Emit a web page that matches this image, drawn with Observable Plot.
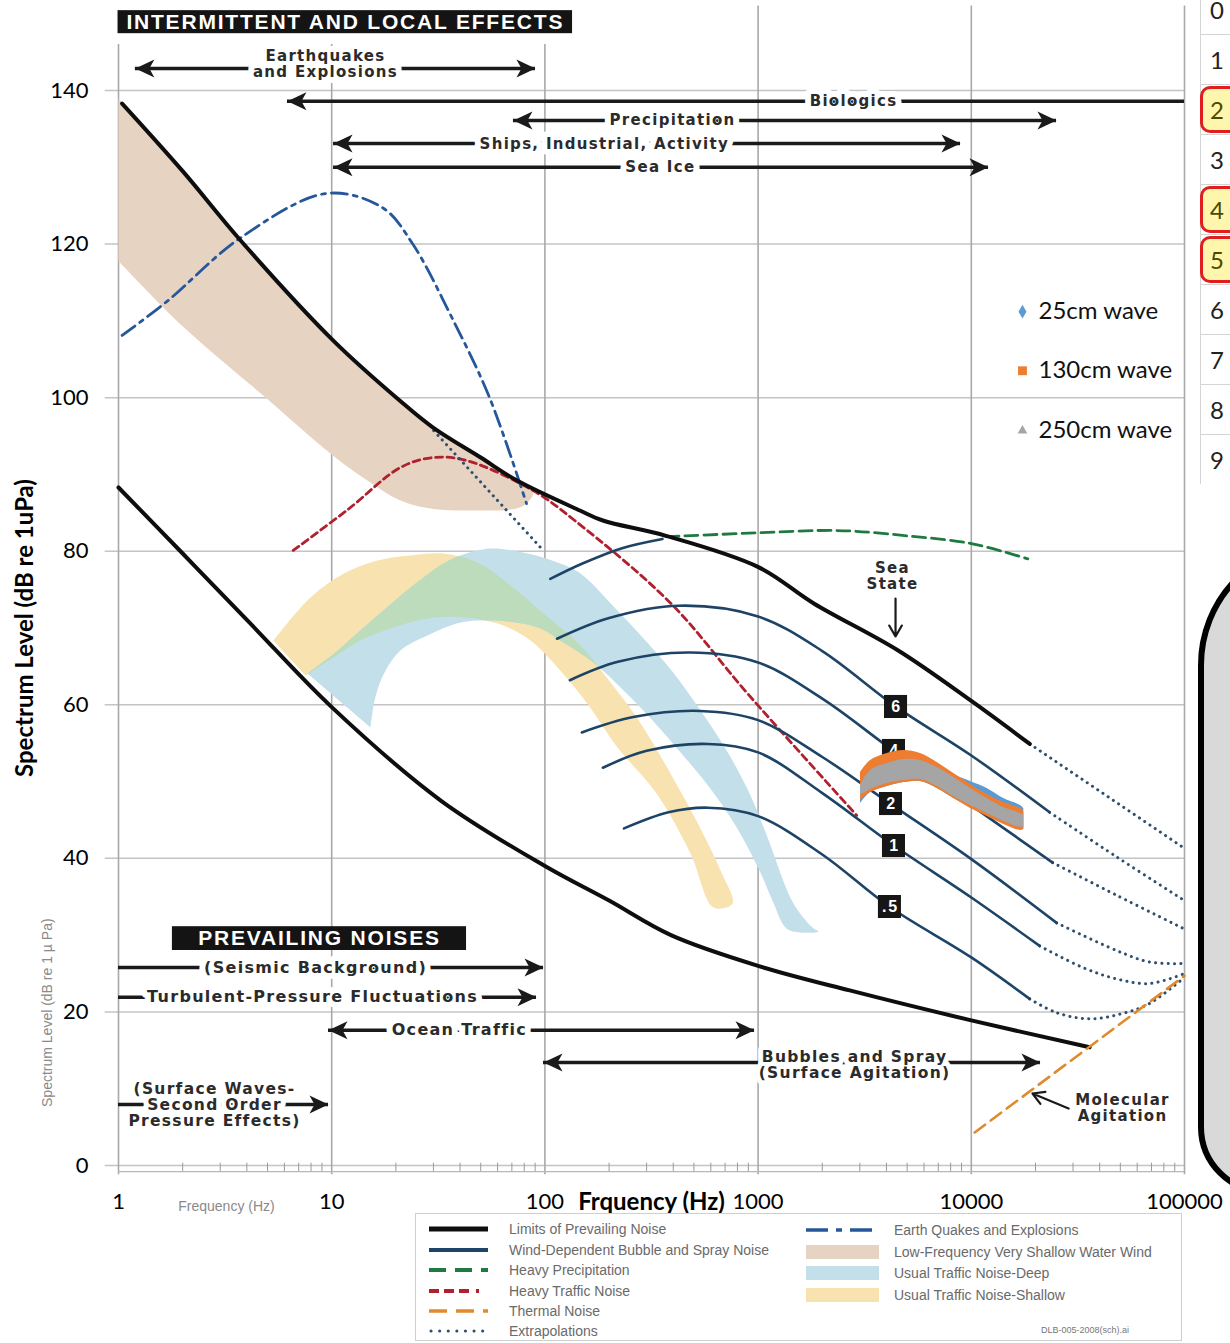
<!DOCTYPE html>
<html>
<head>
<meta charset="utf-8">
<script src="https://cdn.jsdelivr.net/npm/d3@7"></script>
<script src="https://cdn.jsdelivr.net/npm/@observablehq/plot@0.6"></script>
<style>
html,body{margin:0;padding:0;background:#fff}
body{width:1230px;height:1343px;position:relative;overflow:hidden}
#chart{position:absolute;left:0;top:0}
#chart svg{overflow:visible}
g[font-family="DejaVu Sans"] text{letter-spacing:1.3px}
g[font-family="Liberation Sans"] text{letter-spacing:1.8px}
.rowhdr{position:absolute;left:1200px;width:60px;height:50px;box-sizing:border-box;border-top:1px solid #d4d4d4;border-left:1px solid #d4d4d4;font:24px Lato,sans-serif;color:#222;padding-left:9px;line-height:50px;background:#fff}
.rowhdr .hl{position:absolute;left:-1px;top:1px;width:44px;height:47px;box-sizing:border-box;border:3px solid #e01e1e;border-radius:10px;background:#fff6ae;color:#4a4a00;padding-left:7px;line-height:41px}
#roundbox{position:absolute;left:1198px;top:540px;width:200px;height:655px;box-sizing:border-box;border:6px solid #000;border-radius:125px 0 0 68px;background:#d9d9d9}
#wenzLegend{position:absolute;left:415px;top:1213px;width:767px;height:128px;box-sizing:border-box;border:1px solid #cfcfcf;background:#fff;font-family:"Liberation Sans",Arial,sans-serif;font-size:14px;color:#6a6a6a}
#wenzLegend .item{position:absolute;height:20px;line-height:20px;white-space:nowrap}
#wenzLegend svg{position:absolute}
</style>
</head>
<body>
<div id="chart"></div>
<div id="rows"></div>
<div id="roundbox"></div>
<div id="wenzLegend"></div>
<script>
// ---------------- axes ----------------
const freqTicks = [1, 10, 100, 1000, 10000, 100000];
const freqTickTopDb = [146, 146, 146, 151, 151, 151];
const levelTicks = [0, 20, 40, 60, 80, 100, 120, 140];
const minorMultipliers = [2, 3, 4, 5, 6, 7, 8, 9];

// ---------------- limits of prevailing noise ----------------
const upperLimitHz = [1.04, 2, 3.73, 10.2, 20.9, 29.9, 50, 74, 146, 187, 370, 1009, 1825, 4520, 10000, 18800];
const upperLimitDb = [138.3, 129.5, 120.5, 107.4, 99.6, 96.1, 92.2, 89.2, 85.3, 84.0, 82.0, 77.9, 73.2, 67.1, 60.5, 54.9];
const lowerLimitHz = [1, 2, 4.15, 10, 32.6, 100, 200, 390, 1000, 2690, 10000, 35900];
const lowerLimitDb = [88.3, 79.7, 70.6, 59.7, 47.5, 39, 34.5, 30, 26, 22.8, 18.9, 15.4];

// ---------------- wind dependent bubble & spray noise (sea states) ----------------
const windTopHz = [106, 150, 230, 356];
const windTopDb = [76.4, 78.4, 80.4, 81.6];
const wind6Hz = [114, 200, 425, 1000, 2000, 4412, 10000, 23300];
const wind6Db = [68.6, 71.3, 72.9, 71.5, 67.0, 59.8, 53.4, 46.0];
const wind4Hz = [131, 220, 479, 1000, 2000, 4315, 10000, 24070];
const wind4Db = [63.2, 65.6, 66.8, 65.5, 60.8, 54.0, 46.9, 39.45];
const wind2Hz = [149, 260, 534, 1000, 2000, 4178, 10000, 25130];
const wind2Db = [56.4, 58.4, 59.2, 58.0, 53.2, 47.1, 39.9, 31.6];
const wind1Hz = [187, 300, 582, 1000, 2000, 4315, 10000, 20920];
const wind1Db = [51.8, 54.0, 54.9, 53.8, 48.5, 41.7, 34.9, 28.6];
const windHalfHz = [235, 380, 582, 1000, 2000, 4131, 10000, 18790];
const windHalfDb = [43.9, 46.0, 46.6, 45.5, 40.5, 33.7, 27.1, 21.7];

// ---------------- extrapolations (dotted) ----------------
const extUpperHz = [18800, 100000];
const extUpperDb = [54.9, 41.3];
const extTrafficHz = [30.1, 95.3];
const extTrafficDb = [95.7, 80.5];
const ext6Hz = [23300, 48000, 100000];
const ext6Db = [46.0, 40.2, 34.5];
const ext4Hz = [24070, 48000, 100000];
const ext4Db = [39.45, 35.2, 30.8];
const ext2Hz = [25130, 48000, 68550, 100000];
const ext2Db = [31.6, 28.0, 26.5, 26.3];
const ext1Hz = [20920, 33270, 47990, 68550, 100000];
const ext1Db = [28.6, 25.8, 24.3, 23.7, 25.0];
const extHalfHz = [18790, 25130, 35890, 51220, 68550, 100000];
const extHalfDb = [21.7, 19.9, 19.1, 19.8, 21.1, 24.5];

// ---------------- other sources ----------------
const precipHz = [370, 1009, 1950, 2860, 5000, 10000, 18400];
const precipDb = [81.9, 82.4, 82.7, 82.6, 82.0, 81.0, 79.0];
const heavyTrafficHz = [6.6, 12, 21, 29.9, 43, 88, 138, 390, 890, 2900];
const heavyTrafficDb = [80.1, 85.5, 90.9, 92.2, 91.8, 87.9, 84.0, 73.2, 61.5, 45.6];
const quakeHz = [1.04, 1.7, 3.73, 9.5, 17.4, 24, 35.9, 55, 82];
const quakeDb = [108.1, 112.6, 120.8, 126.6, 124.7, 120, 110.9, 100, 86.2];
const thermalHz = [10370, 100000];
const thermalDb = [4.3, 24.7];

// ---------------- shaded regions (outlines) ----------------
const shallowWindHz = [1, 2, 3.73, 10.2, 20.9, 29.9, 50, 74, 88, 80, 68, 51, 30, 21, 14.7, 9.9, 5, 2, 1];
const shallowWindDb = [139, 129.5, 120.5, 107.4, 99.6, 96.1, 92.2, 89.2, 87.6, 86.0, 85.4, 85.3, 85.5, 86.6, 89.2, 92.7, 99.8, 109.3, 117.8];
const trafficShallowHz = [5.33, 7.95, 11.4, 16.4, 23.4, 33.4, 48.3, 69.0, 98.5, 147, 203, 266, 330, 410, 525, 673, 759, 618, 482, 334, 219, 158, 118, 85.6, 61.9, 42.4, 28.1, 19.5, 13.6, 10.2, 7.54];
const trafficShallowDb = [68.37, 73.97, 77.10, 78.79, 79.44, 79.70, 78.53, 75.53, 71.89, 67.72, 62.90, 58.60, 54.44, 49.88, 44.41, 38.16, 34.12, 33.60, 40.63, 48.45, 54.44, 60.17, 64.46, 68.37, 70.46, 71.37, 71.24, 70.07, 68.37, 66.16, 63.81];
const trafficDeepHz = [7.70, 10.4, 13.6, 17.9, 23.4, 33.4, 40.2, 55.6, 82.9, 118, 147, 212, 296, 393, 537, 726, 921, 1107, 1466, 1799, 1920, 1581, 1359, 1168, 1015, 783, 592, 433, 320, 234, 171, 118, 95.4, 72.8, 55.6, 40.2, 28.1, 21.0, 17.9, 16.1, 15.2];
const trafficDeepDb = [64.07, 66.81, 69.67, 72.54, 75.27, 78.40, 79.44, 80.35, 79.70, 78.40, 77.10, 72.67, 68.37, 64.46, 59.26, 53.66, 48.19, 42.72, 34.12, 30.99, 30.47, 30.34, 30.86, 34.51, 38.42, 44.28, 49.23, 53.79, 57.95, 61.86, 65.38, 68.37, 69.93, 70.72, 70.98, 70.72, 69.02, 67.07, 64.46, 61.21, 57.04];

// ---------------- annotations ----------------
const arrowLabels = ["Earthquakes\nand Explosions", "Biologics", "Precipitation", "Ships, Industrial, Activity", "Sea Ice",
  "(Seismic Background)", "Turbulent-Pressure Fluctuations", "Ocean Traffic", "Bubbles and Spray\n(Surface Agitation)", "(Surface Waves-\nSecond Order\nPressure Effects)"];
const arrowDb = [142.85, 138.6, 136.1, 133.1, 130.0, 25.8, 21.9, 17.6, 13.4, 7.94];
const arrowFromHz = [1.2, 6.2, 71.2, 10.2, 10.2, 1, 1, 9.66, 98.5, 1];
const arrowToHz = [90.3, 100000, 25100, 8900, 12040, 98.5, 91.3, 962, 21100, 9.66];
const arrowHeadFrom = [true, true, true, true, true, false, false, true, true, false];
const arrowHeadTo = [true, false, true, true, true, true, true, true, true, true];
const arrowLabelHz = [9.35, 2803, 397, 190, 348, 8.4, 8.13, 39.7, 2834, 2.82];
const arrowLabelDb = [143.5, 138.6, 136.2, 133.1, 130.0, 25.8, 22.0, 17.6, 13.15, 7.94];

const noteLabels = ["Sea\nState", "Molecular\nAgitation"];
const noteHz = [4270, 51200];
const noteDb = [76.84, 7.55];
const pointerFromHz = [4412, 28600];
const pointerFromDb = [73.84, 7.42];
const pointerToHz = [4412, 19360];
const pointerToDb = [68.89, 9.38];

const bannerLabels = ["INTERMITTENT AND LOCAL EFFECTS", "PREVAILING NOISES"];
const bannerFromHz = [0.995, 1.79];
const bannerToHz = [134.8, 42.9];
const bannerLowDb = [147.4, 28.0];
const bannerHighDb = [150.4, 31.1];

const seaStateLabels = ["6", "4", "2", "1", ".5"];
const seaStateHz = [4412, 4315, 4178, 4315, 4131];
const seaStateDb = [59.78, 54.05, 47.14, 41.67, 33.73];

// ---------------- measured spectra (Excel series) ----------------
const waveHz = [3022, 3367, 4033, 4826, 5776, 6918, 8277, 9913, 11870, 14205, 17014, 17632];
const wave25High = [50.79, 52.48, 53.39, 53.79, 53.53, 52.22, 50.92, 50.01, 49.10, 47.79, 46.88, 46.49];
const wave25Low = [47.14, 48.58, 49.36, 49.88, 50.01, 49.10, 47.79, 46.62, 45.58, 44.54, 43.76, 43.89];
const wave130High = [51.18, 52.74, 53.66, 54.05, 53.66, 52.48, 51.05, 49.62, 48.32, 47.27, 46.49, 46.10];
const wave130Low = [47.53, 48.58, 49.36, 49.88, 50.01, 49.10, 47.79, 46.49, 45.45, 44.41, 43.63, 43.76];
const wave250High = [49.49, 51.44, 52.35, 52.87, 52.74, 51.83, 50.53, 49.10, 47.79, 46.62, 45.84, 45.58];
const wave250Low = [48.19, 48.97, 49.75, 50.14, 50.27, 49.36, 48.06, 46.88, 45.84, 44.80, 44.02, 44.15];
const waveNames = ["25cm wave", "130cm wave", "250cm wave"];
const waveLegendHz = [17380, 17380, 17380];
const waveLegendTextHz = [20660, 20660, 20660];
const waveLegendDb = [111.2, 103.5, 95.7];

// ---------------- spreadsheet row headers ----------------
const rowNumbers = [0, 1, 2, 3, 4, 5, 6, 7, 8, 9];
const highlightedRows = [2, 4, 5];

// ---------------- legend (Wenz) ----------------
const legendLeft = ["Limits of Prevailing Noise", "Wind-Dependent Bubble and Spray Noise", "Heavy Precipitation", "Heavy Traffic Noise", "Thermal Noise", "Extrapolations"];
const legendRight = ["Earth Quakes and Explosions", "Low-Frequency Very Shallow Water Wind", "Usual Traffic Noise-Deep", "Usual Traffic Noise-Shallow"];

// ================= build =================
const C = {
  limit: "#0e0e0e", wind: "#1d4466", precip: "#1f7a42", traffic: "#b0202e", quake: "#26579a",
  dotted: "#2f4f6f", thermal: "#e08a2c", beige: "#e7d3c2", yellow: "#f8e2b0", blue: "#c3dfe9", green: "#bcdcbc",
  s25: "#5b9bd5", s130: "#ed7d31", s250: "#a5a5a5", ink: "#1a1a1a", text: "#2b2b2b"
};
const rows = (xs, ys, extra = {}) => xs.map((x, i) => ({hz: x, db: ys[i], ...extra}));

const gridRows = freqTicks.map((f, i) => ({hz: f, top: freqTickTopDb[i]}));
const minorTicks = freqTicks.slice(0, 5).flatMap(d => minorMultipliers.map(m => d * m));
const limitRows = [...rows(upperLimitHz, upperLimitDb, {id: "upper"}), ...rows(lowerLimitHz, lowerLimitDb, {id: "lower"})];
const windRows = [
  ...rows(windTopHz, windTopDb, {id: "top"}), ...rows(wind6Hz, wind6Db, {id: "6"}), ...rows(wind4Hz, wind4Db, {id: "4"}),
  ...rows(wind2Hz, wind2Db, {id: "2"}), ...rows(wind1Hz, wind1Db, {id: "1"}), ...rows(windHalfHz, windHalfDb, {id: ".5"})];
const extRows = [
  ...rows(extUpperHz, extUpperDb, {id: "u"}), ...rows(extTrafficHz, extTrafficDb, {id: "t"}), ...rows(ext6Hz, ext6Db, {id: "6"}),
  ...rows(ext4Hz, ext4Db, {id: "4"}), ...rows(ext2Hz, ext2Db, {id: "2"}), ...rows(ext1Hz, ext1Db, {id: "1"}), ...rows(extHalfHz, extHalfDb, {id: ".5"})];
const arrows = arrowLabels.map((label, i) => ({label, db: arrowDb[i], from: arrowFromHz[i], to: arrowToHz[i],
  headFrom: arrowHeadFrom[i], headTo: arrowHeadTo[i], lx: arrowLabelHz[i], ly: arrowLabelDb[i], multi: label.includes("\n")}));
const notes = noteLabels.map((label, i) => ({label, hz: noteHz[i], db: noteDb[i]}));
const pointers = pointerFromHz.map((x, i) => ({x1: x, y1: pointerFromDb[i], x2: pointerToHz[i], y2: pointerToDb[i]}));
const banners = bannerLabels.map((label, i) => ({label, x1: bannerFromHz[i], x2: bannerToHz[i], y1: bannerLowDb[i], y2: bannerHighDb[i],
  cx: Math.sqrt(bannerFromHz[i] * bannerToHz[i]), cy: (bannerLowDb[i] + bannerHighDb[i]) / 2}));
const seaStates = seaStateLabels.map((label, i) => ({label, hz: seaStateHz[i], db: seaStateDb[i]}));
const waveRows = (lo, hi) => waveHz.map((x, i) => ({hz: x, low: lo[i], high: hi[i]}));
const waveLegend = waveNames.map((name, i) => ({name, hz: waveLegendHz[i], tx: waveLegendTextHz[i], db: waveLegendDb[i]}));

const headRight = {draw(ctx) { ctx.moveTo(0, 0); ctx.lineTo(-19, -9); ctx.lineTo(-14, 0); ctx.lineTo(-19, 9); ctx.closePath(); }};
const headLeft = {draw(ctx) { ctx.moveTo(0, 0); ctx.lineTo(19, -9); ctx.lineTo(14, 0); ctx.lineTo(19, 9); ctx.closePath(); }};

// text groups: top labels 15px, bottom single-line 16px, bottom multi-line 15.5px
const topLabels = arrows.filter(d => d.db > 100);
const bottomSingle = arrows.filter(d => d.db < 100 && !d.multi);
const bottomMulti = arrows.filter(d => d.db < 100 && d.multi);
const wenz = {fontFamily: "DejaVu Sans", fontWeight: "bold"};
function labelLayers(data, opts, halo) {
  return [
    Plot.text(data, {...opts, ...wenz, fill: "white", stroke: "white", strokeWidth: halo}),
    Plot.text(data, {...opts, ...wenz, fill: C.text})
  ];
}

const svg = Plot.plot({
  width: 1230, height: 1213,
  marginLeft: 118, marginRight: 46, marginTop: 90, marginBottom: 48,
  style: {background: "transparent", fontFamily: "Lato, sans-serif", fontSize: "22px", color: "#000", overflow: "visible"},
  x: {type: "log", domain: [1, 100000], ticks: freqTicks, tickFormat: d => String(d), tickSize: 0, tickPadding: 28, label: null},
  y: {domain: [0, 140], ticks: levelTicks, tickSize: 0, tickPadding: 30, label: null},
  marks: [
    // grid
    Plot.ruleY(levelTicks, {x1: 0.866, x2: 100000, stroke: "#c4c4c4", strokeWidth: 1.5}),
    Plot.ruleX(gridRows, {x: "hz", y1: -1.2, y2: "top", stroke: "#a9a9a9", strokeWidth: 1.6}),
    Plot.ruleY([-0.8], {x1: 1, x2: 100000, stroke: "#b8b8b8", strokeWidth: 1.2}),
    Plot.ruleX(minorTicks, {y1: -0.8, y2: 0.3, stroke: "#9a9a9a", strokeWidth: 1}),
    // shaded regions
    Plot.line(rows(shallowWindHz, shallowWindDb), {x: "hz", y: "db", fill: C.beige, stroke: "none", curve: "catmull-rom"}),
    Plot.line(rows(trafficShallowHz, trafficShallowDb), {x: "hz", y: "db", fill: C.yellow, stroke: "none", curve: "catmull-rom"}),
    Plot.line(rows(trafficDeepHz, trafficDeepDb), {x: "hz", y: "db", fill: C.blue, stroke: "none", curve: "catmull-rom"}),
    // curves
    Plot.line(rows(quakeHz, quakeDb), {x: "hz", y: "db", stroke: C.quake, strokeWidth: 2.8, strokeDasharray: "16,6,4,6", curve: "catmull-rom"}),
    Plot.line(rows(heavyTrafficHz, heavyTrafficDb), {x: "hz", y: "db", stroke: C.traffic, strokeWidth: 2.8, strokeDasharray: "7,4.5", curve: "catmull-rom"}),
    Plot.line(rows(precipHz, precipDb), {x: "hz", y: "db", stroke: C.precip, strokeWidth: 2.8, strokeDasharray: "13,6", curve: "catmull-rom"}),
    Plot.line(extRows, {x: "hz", y: "db", z: "id", stroke: C.dotted, strokeWidth: 3, strokeDasharray: "0.1,6.2", strokeLinecap: "round", curve: "catmull-rom"}),
    Plot.line(windRows, {x: "hz", y: "db", z: "id", stroke: C.wind, strokeWidth: 2.6, curve: "catmull-rom"}),
    Plot.line(limitRows, {x: "hz", y: "db", z: "id", stroke: C.limit, strokeWidth: 4, curve: "catmull-rom"}),
    Plot.line(rows(thermalHz, thermalDb), {x: "hz", y: "db", stroke: C.thermal, strokeWidth: 2.6, strokeDasharray: "13,7"}),
    // annotation arrows
    Plot.ruleY(arrows, {y: "db", x1: "from", x2: "to", stroke: C.ink, strokeWidth: 3.5}),
    Plot.dot(arrows.filter(d => d.headFrom), {x: "from", y: "db", symbol: headLeft, fill: C.ink, stroke: "none"}),
    Plot.dot(arrows.filter(d => d.headTo), {x: "to", y: "db", symbol: headRight, fill: C.ink, stroke: "none"}),
    Plot.arrow(pointers, {x1: "x1", y1: "y1", x2: "x2", y2: "y2", stroke: C.ink, strokeWidth: 2.2, headLength: 10}),
    ...labelLayers(topLabels, {x: "lx", y: "ly", text: "label", fontSize: 15, lineHeight: 1.08}, 12),
    ...labelLayers(bottomSingle, {x: "lx", y: "ly", text: "label", fontSize: 16}, 12),
    ...labelLayers(bottomMulti, {x: "lx", y: "ly", text: "label", fontSize: 15.5, lineHeight: 1.04}, 10),
    ...labelLayers(notes, {x: "hz", y: "db", text: "label", fontSize: 15, lineHeight: 1.07}, 6),
    // banners
    Plot.rect(banners, {x1: "x1", x2: "x2", y1: "y1", y2: "y2", fill: "#141414"}),
    Plot.text(banners, {x: "cx", y: "cy", text: "label", fill: "white", fontFamily: "Liberation Sans", fontWeight: "bold", fontSize: 21}),
    // sea state tags
    Plot.dot(seaStates, {x: "hz", y: "db", symbol: "square", r: 13, fill: "#161616", stroke: "none"}),
    Plot.text(seaStates, {x: "hz", y: "db", text: "label", fill: "white", fontFamily: "Liberation Sans", fontWeight: "bold", fontSize: 16, dx: 1}),
    // measured spectra
    Plot.areaY(waveRows(wave25Low, wave25High), {x: "hz", y1: "low", y2: "high", fill: C.s25, curve: "catmull-rom"}),
    Plot.areaY(waveRows(wave130Low, wave130High), {x: "hz", y1: "low", y2: "high", fill: C.s130, curve: "catmull-rom"}),
    Plot.areaY(waveRows(wave250Low, wave250High), {x: "hz", y1: "low", y2: "high", fill: C.s250, curve: "catmull-rom"}),
    // excel legend
    Plot.dot([waveLegend[0]], {x: "hz", y: "db", symbol: "diamond", r: 4.2, fill: C.s25, stroke: "none"}),
    Plot.dot([waveLegend[1]], {x: "hz", y: "db", symbol: "square", r: 5, fill: C.s130, stroke: "none"}),
    Plot.dot([waveLegend[2]], {x: "hz", y: "db", symbol: "triangle", r: 3.6, fill: C.s250, stroke: "none"}),
    Plot.text(waveLegend, {x: "tx", y: "db", text: "name", textAnchor: "start", fontSize: 24, fontFamily: "Lato", fill: "#111"}),
    // axis titles
    Plot.text(["Frquency (Hz)"], {frameAnchor: "bottom", dy: 44, text: d => d, fontWeight: "bold", fontSize: 24, fontFamily: "Lato", fill: "#000"}),
    Plot.text(["Spectrum Level (dB re 1uPa)"], {frameAnchor: "left", dx: -93, rotate: -90, textAnchor: "middle", text: d => d, fontWeight: "bold", fontSize: 24, fontFamily: "Lato", fill: "#000"}),
    // ghost labels of the underlying figure
    Plot.text(["Frequency (Hz)"], {x: 3.21, y: -5.34, text: d => d, fontSize: 14, fontFamily: "Arial", fill: "#8a8a8a"}),
    Plot.text(["Spectrum Level (dB re 1 \u00b5 Pa)"], {x: 0.465, y: 19.9, rotate: -90, text: d => d, fontSize: 14, fontFamily: "Arial", fill: "#8a8a8a"})
  ]
});
document.getElementById("chart").append(svg);

// overlap of the two traffic regions (shallow ∩ deep) shown in green
(function () {
  const ns = "http://www.w3.org/2000/svg";
  const gs = Array.from(svg.querySelectorAll("g[fill]"));
  const gY = gs.find(g => (g.getAttribute("fill") || "").toLowerCase() === C.yellow);
  const gB = gs.find(g => (g.getAttribute("fill") || "").toLowerCase() === C.blue);
  if (!gY || !gB) return;
  const pY = gY.querySelector("path"), pB = gB.querySelector("path");
  if (!pY || !pB) return;
  const defs = document.createElementNS(ns, "defs");
  const cp = document.createElementNS(ns, "clipPath");
  cp.setAttribute("id", "deepTrafficClip");
  const cpp = document.createElementNS(ns, "path");
  cpp.setAttribute("d", pB.getAttribute("d"));
  cp.append(cpp); defs.append(cp); svg.prepend(defs);
  const ov = document.createElementNS(ns, "path");
  ov.setAttribute("d", pY.getAttribute("d"));
  ov.setAttribute("fill", C.green);
  ov.setAttribute("clip-path", "url(#deepTrafficClip)");
  gB.append(ov);
})();

// spreadsheet row headers
const rowsDiv = document.getElementById("rows");
rowNumbers.forEach((n, i) => {
  const d = document.createElement("div");
  d.className = "rowhdr";
  d.style.top = (-16 + 50 * i) + "px";
  if (highlightedRows.includes(n)) {
    const h = document.createElement("div");
    h.className = "hl"; h.textContent = n; d.append(h);
  } else d.textContent = n;
  rowsDiv.append(d);
});

// Wenz legend box
const lg = document.getElementById("wenzLegend");
function sample(x, y, w, h, inner) {
  const s = document.createElementNS("http://www.w3.org/2000/svg", "svg");
  s.setAttribute("width", w); s.setAttribute("height", h);
  s.style.left = x + "px"; s.style.top = y + "px";
  s.innerHTML = inner; lg.append(s);
}
function item(x, y, t) {
  const d = document.createElement("div");
  d.className = "item"; d.style.left = x + "px"; d.style.top = (y - 10) + "px"; d.textContent = t; lg.append(d);
}
const leftY = [15, 36, 56, 77, 97, 117];
const leftSamples = [
  `<line x1="0" y1="5" x2="59" y2="5" stroke="${C.limit}" stroke-width="5"/>`,
  `<line x1="0" y1="5" x2="59" y2="5" stroke="${C.wind}" stroke-width="4"/>`,
  `<line x1="0" y1="5" x2="59" y2="5" stroke="${C.precip}" stroke-width="4" stroke-dasharray="17,9"/>`,
  `<line x1="0" y1="5" x2="59" y2="5" stroke="${C.traffic}" stroke-width="4" stroke-dasharray="10,5,10,5,10,7,3,9"/>`,
  `<line x1="0" y1="5" x2="59" y2="5" stroke="${C.thermal}" stroke-width="3.5" stroke-dasharray="18,9"/>`,
  `<line x1="2" y1="5" x2="59" y2="5" stroke="${C.dotted}" stroke-width="3" stroke-linecap="round" stroke-dasharray="0.1,8.5"/>`
];
legendLeft.forEach((t, i) => { sample(13, leftY[i] - 5, 60, 10, leftSamples[i]); item(93, leftY[i], t); });
const rightY = [16, 38, 59, 81];
const rightSamples = [
  `<line x1="0" y1="7" x2="73" y2="7" stroke="${C.quake}" stroke-width="3.5" stroke-dasharray="22,8,6,8"/>`,
  `<rect x="0" y="0" width="73" height="14" fill="${C.beige}"/>`,
  `<rect x="0" y="0" width="73" height="14" fill="${C.blue}"/>`,
  `<rect x="0" y="0" width="73" height="14" fill="${C.yellow}"/>`
];
legendRight.forEach((t, i) => { sample(390, rightY[i] - 7, 74, 14, rightSamples[i]); item(478, rightY[i], t); });
const credit = document.createElement("div");
credit.className = "item"; credit.style.left = "625px"; credit.style.top = "106px"; credit.style.fontSize = "9px"; credit.style.color = "#777";
credit.textContent = "DLB-005-2008(sch).ai"; lg.append(credit);
</script>
</body>
</html>
